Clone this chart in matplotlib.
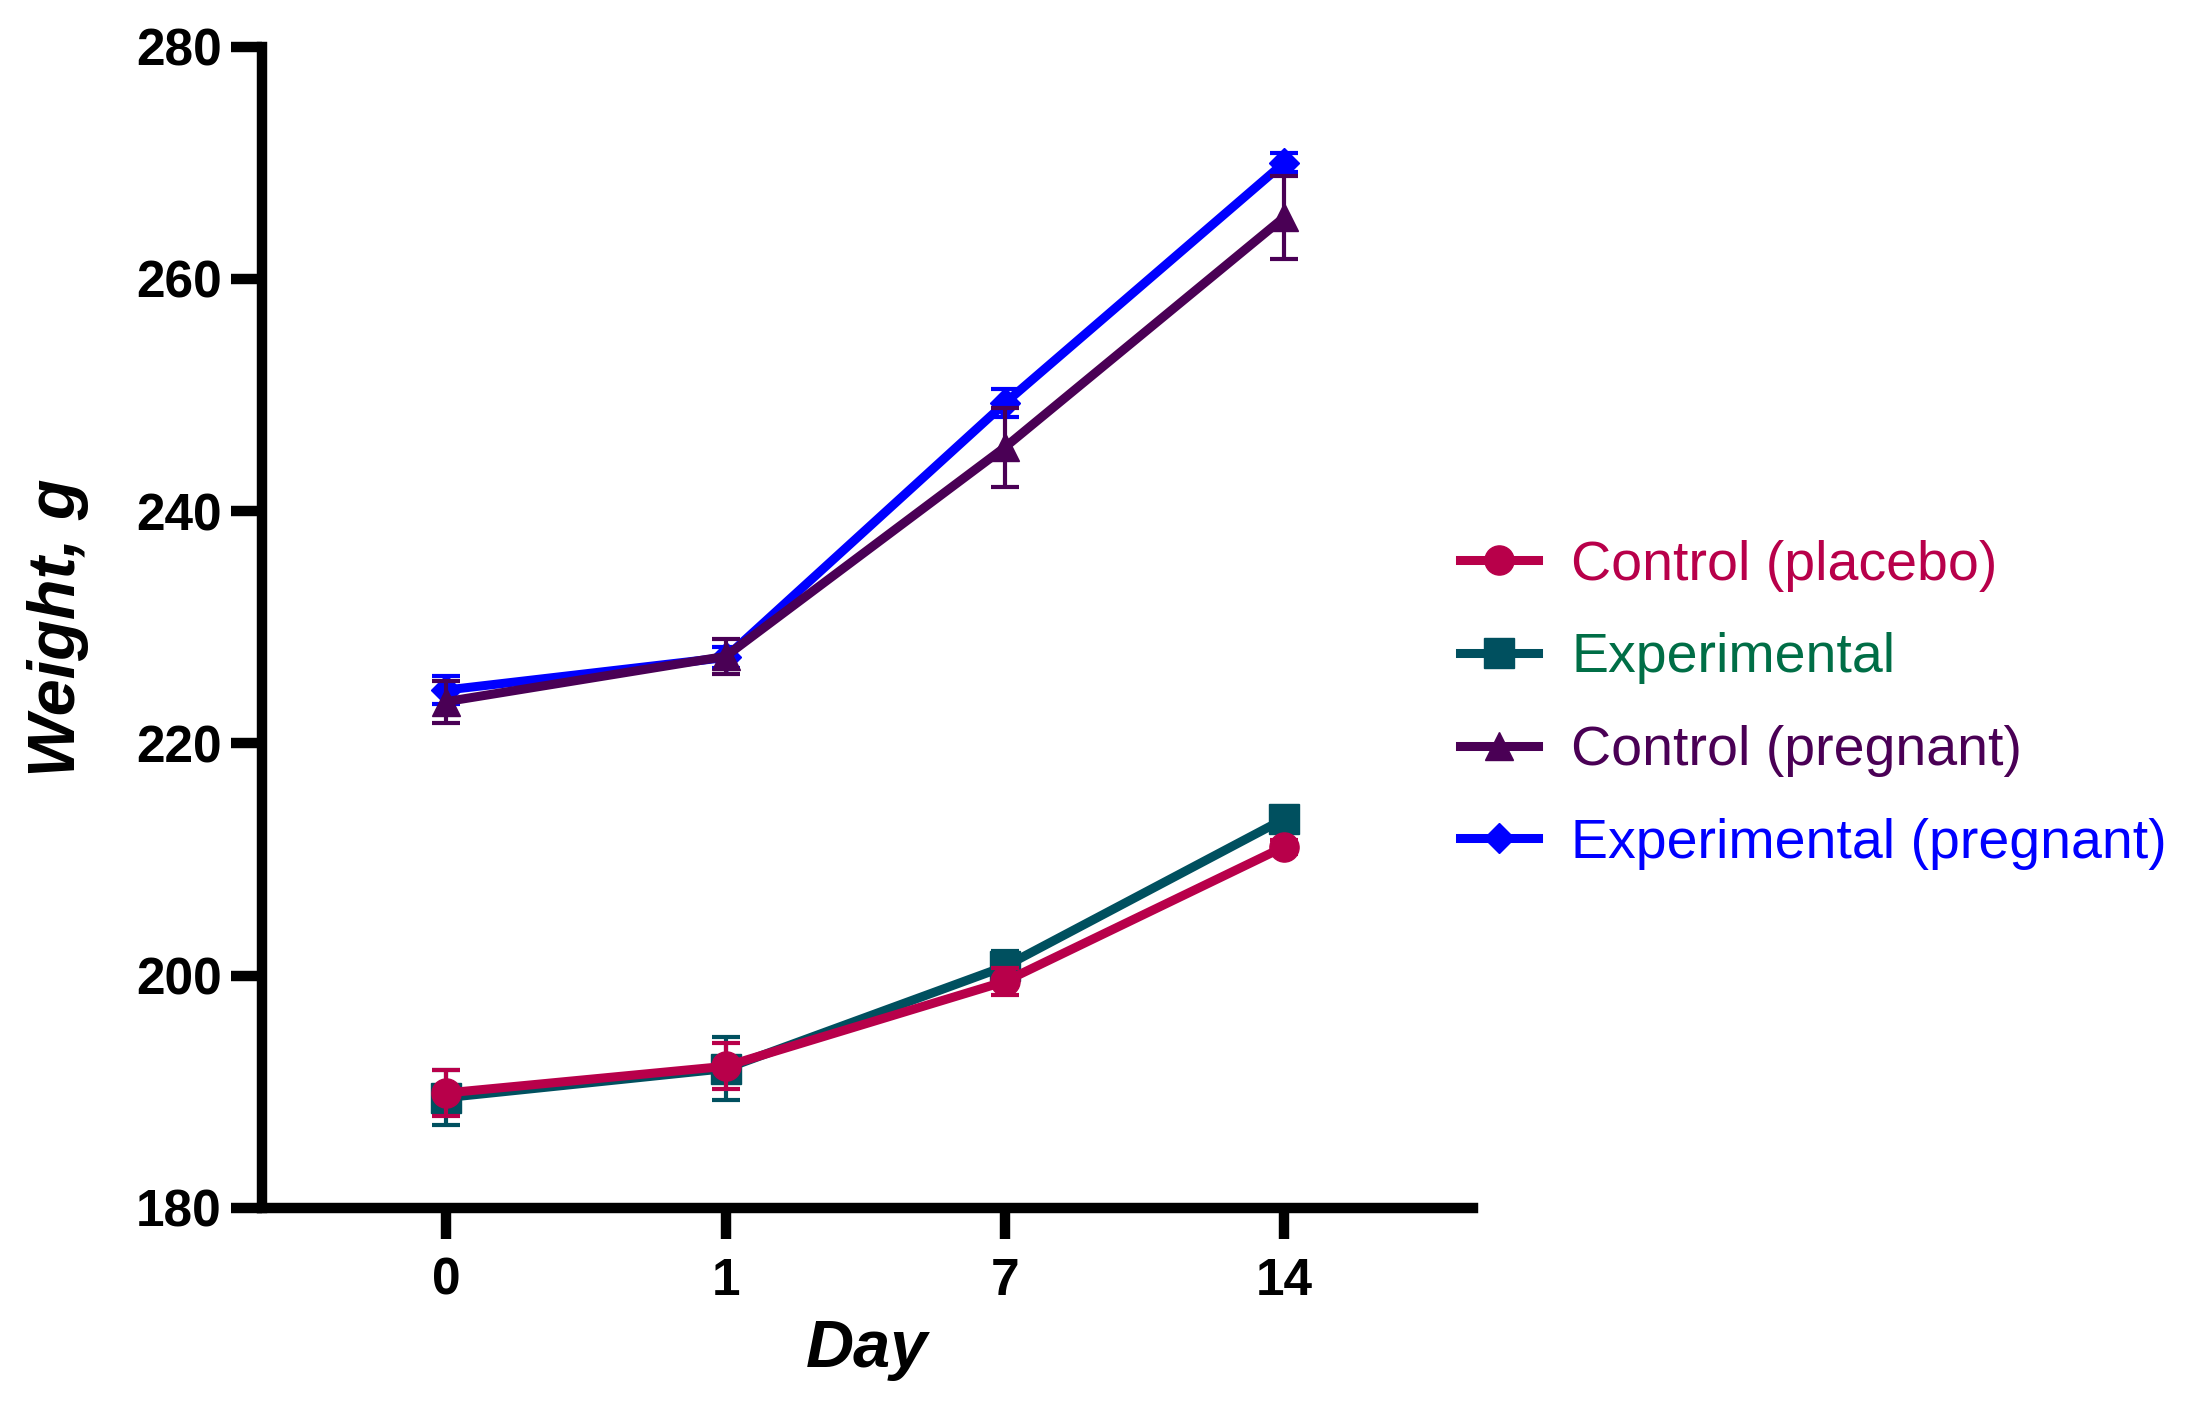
import matplotlib
matplotlib.use("Agg")
import matplotlib.pyplot as plt
from matplotlib.lines import Line2D

# data (mean +/- error per day)
days = ["0", "1", "7", "14"]
placebo_mean = [189.9, 192.2, 199.5, 211.1]
placebo_err = [2.0, 2.0, 1.2, 0.6]
exp_mean = [189.5, 192.0, 200.8, 213.5]
exp_err = [2.4, 2.7, 1.3, 1.0]
preg_ctrl_mean = [223.6, 227.5, 245.5, 265.3]
preg_ctrl_err = [1.8, 1.5, 3.4, 3.6]
preg_exp_mean = [224.6, 227.4, 249.3, 270.0]
preg_exp_err = [1.2, 0.9, 1.2, 0.8]

labels = ["Control (placebo)", "Experimental", "Control (pregnant)", "Experimental (pregnant)"]
line_colors = ["#B8004A", "#00505F", "#4A0055", "#0000FF"]
text_colors = ["#B8004A", "#006E46", "#4A0055", "#0000FF"]
markers = ["o", "s", "^", "D"]
msizes = [21, 21, 20, 15]

plt.rcParams["font.family"] = ["Liberation Sans", "DejaVu Sans"]

fig = plt.figure(figsize=(21.97, 14.01), dpi=100)
ax = fig.add_axes([0.1193, 0.1378, 0.551, 0.8289])

x = list(range(len(days)))
series = [(placebo_mean, placebo_err), (exp_mean, exp_err),
          (preg_ctrl_mean, preg_ctrl_err), (preg_exp_mean, preg_exp_err)]

# first series drawn on top, like the original
for i, (m, e) in enumerate(series):
    ax.errorbar(x, m, yerr=e, color=line_colors[i], marker=markers[i],
                markersize=msizes[i], linewidth=6.5, elinewidth=3,
                capsize=10, capthick=3, zorder=10 - i)

ax.set_xlim(-0.66, 3.675)
ax.set_ylim(180, 280)
ax.set_xticks(x)
ax.set_xticklabels(days)
ax.set_yticks([180, 200, 220, 240, 260, 280])

for s in ["top", "right"]:
    ax.spines[s].set_visible(False)
for s in ["left", "bottom"]:
    ax.spines[s].set_linewidth(7.5)
ax.tick_params(axis="both", width=7.5, length=22, labelsize=37)
ax.tick_params(axis="y", pad=7)
ax.tick_params(axis="x", pad=13)
for t in ax.get_xticklabels() + ax.get_yticklabels():
    t.set_fontweight("bold")

ax.set_xlabel("Day", fontsize=48, fontweight="bold", fontstyle="italic", va="baseline")
ax.xaxis.set_label_coords(0.5, -0.137)
ax.set_ylabel("Weight, g", fontsize=48, fontweight="bold", fontstyle="italic", va="center")
ax.yaxis.set_label_coords(-0.169, 0.5)

handles = [Line2D([0], [0], color=line_colors[i], marker=markers[i],
                  markersize=msizes[i], linewidth=6.5) for i in range(4)]
leg = fig.legend(handles, labels, loc="center left", bbox_to_anchor=(0.6645, 0.497),
                 frameon=False, fontsize=40, handlelength=1.4, handletextpad=0.6,
                 labelspacing=0.73, borderpad=0, borderaxespad=0)
for t, c in zip(leg.get_texts(), text_colors):
    t.set_color(c)

fig.savefig("out.png", dpi=100)
